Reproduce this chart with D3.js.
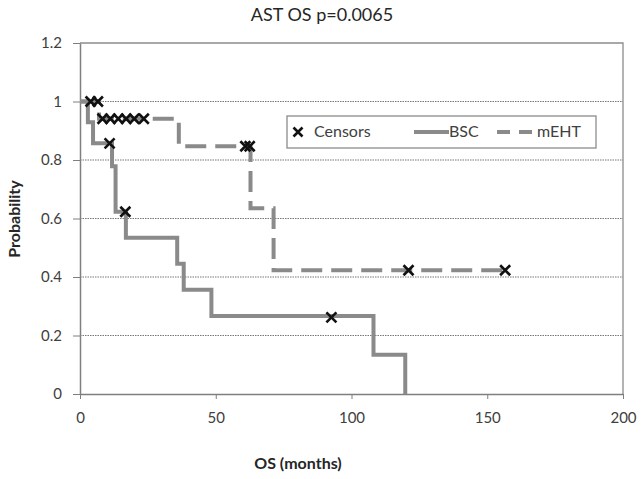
<!DOCTYPE html>
<html><head><meta charset="utf-8">
<script src="https://cdn.jsdelivr.net/npm/d3@7"></script>
<style>body{margin:0;background:#fff;} svg{display:block;}</style>
</head><body>
<svg id="c" width="643" height="479"></svg>
<script>
const xTicks = [0, 50, 100, 150, 200];
const yTicks = [0, 0.2, 0.4, 0.6, 0.8, 1, 1.2];
const yTickLabels = ["0", "0.2", "0.4", "0.6", "0.8", "1", "1.2"];

const bscTimes = [0, 2.9, 4.8, 11.8, 13.1, 16.9, 35.8, 38.2, 48.4, 108.1, 119.8];
const bscSurv  = [1, 0.929, 0.857, 0.779, 0.623, 0.534, 0.445, 0.356, 0.267, 0.134, 0];
const bscEnd = 119.8;
const bscCensorT = [10.9, 16.7, 92.6];
const bscCensorS = [0.857, 0.623, 0.262];

const mehtTimes = [0, 7.0, 36.4, 62.8, 71.3];
const mehtSurv  = [1, 0.941, 0.847, 0.635, 0.423];
const mehtEnd = 156.6;
const mehtCensorT = [3.9, 6.6, 8.3, 11.2, 14.1, 17.0, 20.0, 23.5, 60.9, 62.5, 121.0, 156.6];
const mehtCensorS = [1, 1, 0.941, 0.941, 0.941, 0.941, 0.941, 0.941, 0.847, 0.847, 0.423, 0.423];

const svg = d3.select("#c");
const font = "Lato, 'Open Sans', sans-serif";
const x = d3.scaleLinear().domain([0, 200]).range([80, 623]);
const y = d3.scaleLinear().domain([0, 1.2]).range([394, 43]);
const lineCol = "#8a8a8a";

// grid
svg.append("g").selectAll("line").data(yTicks.filter(v => v > 0 && v < 1.2)).join("line")
  .attr("x1", x(0)).attr("x2", x(200)).attr("y1", d => y(d)).attr("y2", d => y(d))
  .attr("stroke", "#777").attr("stroke-width", 1.1).attr("stroke-dasharray", "1.5,1");

// plot border (top & right)
svg.append("path").attr("d", `M${x(0)},${y(1.2)}H${x(200)}V${y(0)}`)
  .attr("fill", "none").attr("stroke", "#8c8c8c").attr("stroke-width", 1.3);

// axes
const xAxis = d3.axisBottom(x).tickValues(xTicks).tickSize(6).tickSizeOuter(0);
const gx = svg.append("g").attr("transform", `translate(0,${y(0)})`).call(xAxis);
gx.select(".domain").attr("stroke", "#7f7f7f").attr("stroke-width", 1.5);
gx.selectAll(".tick line").attr("stroke", "#7f7f7f").attr("y1", -0).attr("y2", 5);
gx.selectAll(".tick text").attr("font-family", font).attr("font-size", 15).attr("fill", "#404040").attr("dy", "1.35em");

const yAxis = d3.axisLeft(y).tickValues(yTicks).tickFormat((d, i) => yTickLabels[i]).tickSize(7).tickSizeOuter(0);
const gy = svg.append("g").attr("transform", `translate(${x(0)},0)`).call(yAxis);
gy.select(".domain").attr("stroke", "#7f7f7f").attr("stroke-width", 1.5);
gy.selectAll(".tick line").attr("stroke", "#7f7f7f");
gy.selectAll(".tick text").attr("font-family", font).attr("font-size", 15).attr("fill", "#404040").attr("x", -18);

// step curves
function stepData(times, surv, end) {
  const pts = times.map((t, i) => [t, surv[i]]);
  pts.push([end, surv[surv.length - 1]]);
  return pts;
}
const line = d3.line().x(d => x(d[0])).y(d => y(d[1])).curve(d3.curveStepAfter);

svg.append("path").datum(stepData(bscTimes, bscSurv, bscEnd)).attr("d", line)
  .attr("fill", "none").attr("stroke", lineCol).attr("stroke-width", 4);
svg.append("path").datum(stepData(mehtTimes, mehtSurv, mehtEnd)).attr("d", line)
  .attr("fill", "none").attr("stroke", lineCol).attr("stroke-width", 4).attr("stroke-dasharray", "21,9");

// censors
function cross(g, cx, cy, r) {
  g.append("path").attr("d", `M${cx - r},${cy - r}L${cx + r},${cy + r}M${cx - r},${cy + r}L${cx + r},${cy - r}`)
    .attr("stroke", "#111").attr("stroke-width", 2.6).attr("fill", "none");
}
const cg = svg.append("g");
const censors = bscCensorT.map((t, i) => [t, bscCensorS[i]]).concat(mehtCensorT.map((t, i) => [t, mehtCensorS[i]]));
censors.forEach(d => cross(cg, x(d[0]), y(d[1]), 5));

// legend
const lg = svg.append("g");
lg.append("rect").attr("x", 287).attr("y", 116).attr("width", 309).attr("height", 32)
  .attr("fill", "#fff").attr("stroke", "#8c8c8c").attr("stroke-width", 1.3);
cross(lg, 298, 132, 4.5);
lg.append("text").attr("x", 314).attr("y", 137).text("Censors");
lg.append("line").attr("x1", 414).attr("x2", 449).attr("y1", 132).attr("y2", 132)
  .attr("stroke", lineCol).attr("stroke-width", 4);
lg.append("text").attr("x", 449).attr("y", 137).text("BSC");
lg.append("line").attr("x1", 497).attr("x2", 537).attr("y1", 132).attr("y2", 132)
  .attr("stroke", lineCol).attr("stroke-width", 4).attr("stroke-dasharray", "13,9");
lg.append("text").attr("x", 537).attr("y", 137).text("mEHT");
lg.selectAll("text").attr("font-family", font).attr("font-size", 16).attr("fill", "#404040");

// titles
svg.append("text").attr("x", 322).attr("y", 21).attr("text-anchor", "middle")
  .attr("font-family", font).attr("font-size", 18).attr("fill", "#262626").text("AST OS p=0.0065");
svg.append("text").attr("x", 298).attr("y", 469).attr("text-anchor", "middle")
  .attr("font-family", font).attr("font-size", 16).attr("font-weight", "bold").attr("fill", "#262626").text("OS (months)");
svg.append("text").attr("transform", "translate(20,219) rotate(-90)").attr("text-anchor", "middle")
  .attr("font-family", font).attr("font-size", 16).attr("font-weight", "bold").attr("fill", "#262626").text("Probability");
</script>
</body></html>
